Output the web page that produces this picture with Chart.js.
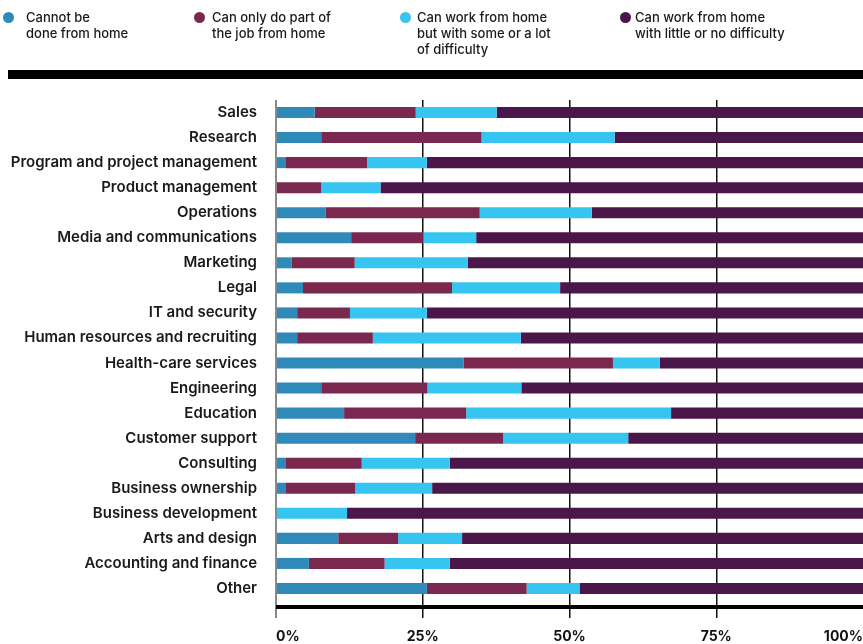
<!DOCTYPE html>
<html>
<head>
<meta charset="utf-8">
<script src="https://cdn.jsdelivr.net/npm/chart.js@4/dist/chart.umd.min.js"></script>
<style>
  html, body { margin: 0; padding: 0; background: #fff; }
  #wrap { position: relative; width: 863px; height: 644px; overflow: hidden; font-family: Inter, "Noto Sans", sans-serif; }
  #c { position: absolute; left: 0; top: 0; }
  .lg { position: absolute; top: 9px; font-size: 13px; font-weight: 500; line-height: 16px; color: #1a1a1a; }
  .dot { position: absolute; width: 11px; height: 11px; border-radius: 50%; top: 12px; }
  #rule { position: absolute; left: 8px; top: 70px; width: 855px; height: 9px; background: #000; }
</style>
</head>
<body>
<div id="wrap">
  <canvas id="c" width="863" height="644"></canvas>
  <div id="legend"></div>
  <div id="rule"></div>
</div>
<script>
const categories = ["Sales","Research","Program and project management","Product management","Operations","Media and communications","Marketing","Legal","IT and security","Human resources and recruiting","Health-care services","Engineering","Education","Customer support","Consulting","Business ownership","Business development","Arts and design","Accounting and finance","Other"];

const cannotBeDone   = [6.6, 7.7, 1.7, 0,   8.5, 12.8, 2.7, 4.6, 3.6, 3.6, 32.0, 7.7, 11.6, 23.7, 1.7, 1.7, 0,   10.6, 5.6, 25.7];
const partOfJob      = [17.2,27.3,13.8,7.7, 26.2,12.3,10.7,25.4, 9.0,12.9, 25.4,18.1, 20.8,15.0,12.9,11.8, 0,   10.2,12.9,17.0];
const withDifficulty = [13.8,22.7,10.2,10.1,19.1, 9.0,19.3,18.4,13.1,25.2,  8.0,16.0, 34.9,21.3,15.0,13.1, 12.1,10.9,11.1, 9.0];
const littleDifficulty=[62.4,42.3,74.3,82.2,46.2,65.9,67.3,51.6,74.3,58.3, 34.6,58.2, 32.7,40.0,70.4,73.4, 87.9,68.3,70.4,48.3];

const seriesNames = [
  ["Cannot be", "done from home"],
  ["Can only do part of", "the job from home"],
  ["Can work from home", "but with some or a lot", "of difficulty"],
  ["Can work from home", "with little or no difficulty"]
];
const xTicks = [0, 25, 50, 75, 100];

const colors = ["#2f8ab9", "#7b2851", "#36c4f0", "#4b164a"];
const seriesData = [cannotBeDone, partOfJob, withDifficulty, littleDifficulty];

// HTML legend
const legendPos = [{dot: 3, text: 26}, {dot: 194, text: 212}, {dot: 400, text: 417}, {dot: 620, text: 635}];
const legendEl = document.getElementById('legend');
seriesNames.forEach((lines, i) => {
  const d = document.createElement('div');
  d.className = 'dot'; d.style.left = legendPos[i].dot + 'px'; d.style.background = colors[i];
  legendEl.appendChild(d);
  const t = document.createElement('div');
  t.className = 'lg'; t.style.left = legendPos[i].text + 'px';
  t.innerHTML = lines.join('<br>');
  legendEl.appendChild(t);
});

const baseLine = {
  id: 'baseLine',
  afterDatasetsDraw(chart) {
    const {ctx, chartArea} = chart;
    ctx.save();
    ctx.strokeStyle = '#000';
    ctx.lineWidth = 4;
    ctx.beginPath();
    ctx.moveTo(chartArea.left, chartArea.bottom + 6);
    ctx.lineTo(chartArea.right, chartArea.bottom + 6);
    ctx.stroke();
    ctx.restore();
  }
};

new Chart(document.getElementById('c'), {
  type: 'bar',
  data: {
    labels: categories,
    datasets: seriesData.map((d, i) => ({
      label: seriesNames[i].join(' '),
      data: d,
      backgroundColor: colors[i],
      borderWidth: 0,
      barPercentage: 0.44,
      categoryPercentage: 1
    }))
  },
  options: {
    indexAxis: 'y',
    responsive: false,
    animation: false,
    layout: { padding: { top: 100, right: 0, left: 0, bottom: 0 } },
    plugins: { legend: { display: false }, tooltip: { enabled: false } },
    scales: {
      x: {
        stacked: true,
        min: 0, max: 100,
        afterFit(scale) { scale.height = 43; scale.paddingRight = 0; scale.paddingLeft = 0; },
        afterBuildTicks(scale) { scale.ticks = xTicks.map(v => ({ value: v })); },
        border: { display: false },
        grid: {
          color: ctx => ctx.tick && ctx.tick.value === 0 ? '#8a8a8a' : (ctx.tick && ctx.tick.value === 100 ? 'rgba(0,0,0,0)' : '#111'),
          lineWidth: ctx => ctx.tick && ctx.tick.value === 0 ? 2 : 1.5,
          tickLength: 17,
          drawTicks: true
        },
        ticks: {
          align: 'inner',
          padding: 10,
          color: '#111',
          font: { family: 'Inter', size: 14, weight: '700' },
          callback: v => v + '%'
        }
      },
      y: {
        stacked: true,
        afterFit(scale) { scale.width = 276; },
        border: { display: false },
        grid: { display: false, drawTicks: false },
        ticks: {
          padding: 19,
          color: '#1a1a1a',
          font: { family: 'Inter', size: 15, weight: '600' }
        }
      }
    }
  },
  plugins: [baseLine]
});
</script>
</body>
</html>
